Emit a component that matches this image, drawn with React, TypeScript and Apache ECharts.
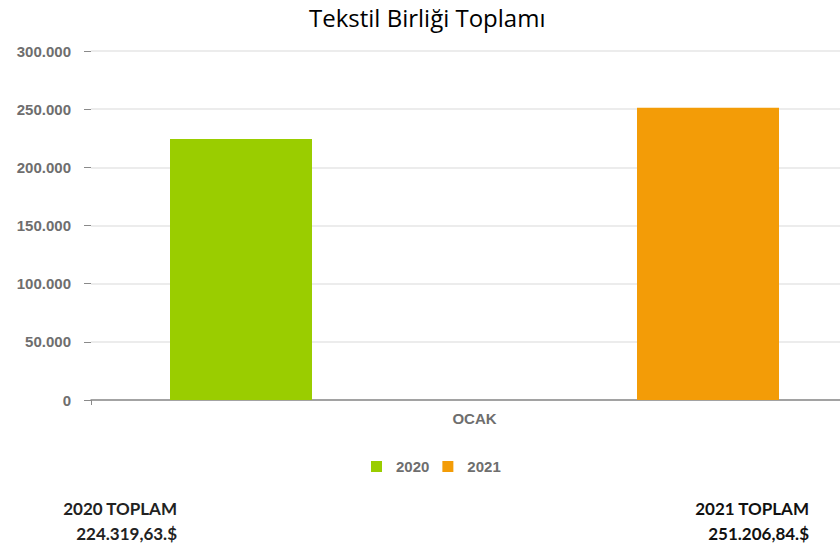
import React, { useEffect, useRef } from "react";
import * as echarts from "echarts";

const categories = ["OCAK"];
const seriesNames = ["2020", "2021"];
const values2020 = [224319.63];
const values2021 = [251206.84];
const totalLabels = ["224.319,63.$", "251.206,84.$"];
const totalTitles = ["2020 TOPLAM", "2021 TOPLAM"];
const colors = ["#9ACD00", "#F39C07"];
// spacer series (invisible) to position the two bars within the single category band
const spacerValues = [0];

const fmt = (v: number) => String(Math.round(v)).replace(/\B(?=(\d{3})+(?!\d))/g, ".");

export default function App() {
  const ref = useRef<HTMLDivElement>(null);
  useEffect(() => {
    document.body.style.margin = "0";
    const chart = echarts.init(ref.current!, null, { renderer: "svg" });
    chart.setOption({
      animation: false,
      title: {
        text: "Tekstil Birliği Toplamı",
        left: 309,
        top: 0,
        padding: [3, 0, 0, 0],
        textStyle: {
          fontFamily: "Open Sans",
          fontWeight: "normal",
          fontSize: 24,
          lineHeight: 28,
          color: "#000",
        },
      },
      legend: {
        left: 366,
        top: 454,
        itemWidth: 11,
        itemHeight: 11,
        itemGap: 13,
        icon: "rect",
        data: seriesNames,
        textStyle: {
          fontFamily: "Liberation Sans",
          fontWeight: "bold",
          fontSize: 15,
          color: "#6e6e6e",
          padding: [0, 0, 0, 9],
        },
      },
      grid: { left: 91, right: 0, top: 51, bottom: 150, containLabel: false },
      xAxis: {
        type: "category",
        data: categories,
        axisLine: { lineStyle: { color: "#8a8a8a", width: 1.5 } },
        axisTick: { show: true, length: 5, lineStyle: { color: "#8a8a8a" } },
        axisLabel: {
          margin: 11,
          fontFamily: "Liberation Sans",
          fontWeight: "bold",
          fontSize: 15,
          color: "#6e6e6e",
          padding: [0, 0, 0, 18],
        },
        splitLine: { show: false },
      },
      yAxis: {
        type: "value",
        min: 0,
        max: 300000,
        interval: 50000,
        axisLine: { show: false },
        axisTick: { show: true, length: 7, lineStyle: { color: "#8a8a8a" } },
        axisLabel: {
          margin: 20,
          fontFamily: "Liberation Sans",
          fontWeight: "bold",
          fontSize: 15,
          color: "#6e6e6e",
          formatter: (v: number) => fmt(v),
        },
        splitLine: { lineStyle: { color: "#e6e6e6", width: 1.5 } },
      },
      series: [
        {
          name: "spacerA",
          type: "bar",
          data: spacerValues,
          barWidth: 18,
          barGap: 0,
          silent: true,
          itemStyle: { color: "rgba(0,0,0,0)" },
        },
        {
          name: seriesNames[0],
          type: "bar",
          data: values2020,
          barWidth: 142,
          itemStyle: { color: colors[0] },
        },
        {
          name: "spacerB",
          type: "bar",
          data: spacerValues,
          barWidth: 325,
          silent: true,
          itemStyle: { color: "rgba(0,0,0,0)" },
        },
        {
          name: seriesNames[1],
          type: "bar",
          data: values2021,
          barWidth: 142,
          itemStyle: { color: colors[1] },
        },
      ],
      graphic: [
        {
          type: "text",
          x: 177,
          y: 508,
          style: {
            text: totalTitles[0],
            align: "right",
            verticalAlign: "middle",
            font: "bold 17px Lato",
            fill: "#222",
          },
        },
        {
          type: "text",
          x: 177,
          y: 533,
          style: {
            text: totalLabels[0],
            align: "right",
            verticalAlign: "middle",
            font: "bold 17px Lato",
            fill: "#222",
          },
        },
        {
          type: "text",
          x: 809,
          y: 508,
          style: {
            text: totalTitles[1],
            align: "right",
            verticalAlign: "middle",
            font: "bold 17px Lato",
            fill: "#111",
          },
        },
        {
          type: "text",
          x: 809,
          y: 533,
          style: {
            text: totalLabels[1],
            align: "right",
            verticalAlign: "middle",
            font: "bold 17px Lato",
            fill: "#111",
          },
        },
      ],
    });
    return () => chart.dispose();
  }, []);
  return <div ref={ref} style={{ width: 840, height: 550 }} />;
}
